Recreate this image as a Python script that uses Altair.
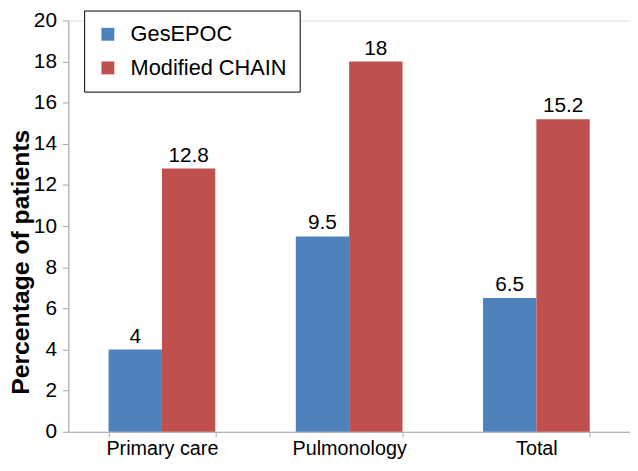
import altair as alt
import pandas as pd

categories = ["Primary care", "Pulmonology", "Total"]
series = ["GesEPOC", "Modified CHAIN"]
gesepoc = [4, 9.5, 6.5]
chain = [12.8, 18, 15.2]
value_labels_g = ["4", "9.5", "6.5"]
value_labels_c = ["12.8", "18", "15.2"]

rows = []
for i, c in enumerate(categories):
    rows.append({"cat": c, "series": series[0], "value": gesepoc[i], "label": value_labels_g[i]})
    rows.append({"cat": c, "series": series[1], "value": chain[i], "label": value_labels_c[i]})
df = pd.DataFrame(rows)

FONT = "Liberation Sans"
AXIS_GREY = "#a6a6a6"

x = alt.X("cat:N", sort=categories, title=None,
          scale=alt.Scale(paddingInner=0.43, paddingOuter=0.215),
          axis=alt.Axis(labelAngle=0, labelFontSize=20, labelFont=FONT, labelColor="black",
                        labelPadding=2, domainColor=AXIS_GREY, tickColor=AXIS_GREY,
                        tickSize=5, tickBand="extent", grid=False))
xo = alt.XOffset("series:N", sort=series, scale=alt.Scale(paddingInner=0, paddingOuter=0))
y = alt.Y("value:Q", title="Percentage of patients",
          scale=alt.Scale(domain=[0, 20], nice=False),
          axis=alt.Axis(values=list(range(0, 21, 2)), grid=False, labelFontSize=21, labelFont=FONT,
                        labelColor="black", domainColor=AXIS_GREY, tickColor=AXIS_GREY, tickSize=6,
                        labelPadding=6,
                        titleFontSize=25, titleFont=FONT, titleFontWeight="bold", titleColor="black",
                        titleX=-35, titleY=244, titleBaseline="bottom", titleAngle=270))

color = alt.Color("series:N", sort=series,
                  scale=alt.Scale(domain=series, range=["#4F81BD", "#C0504D"]),
                  legend=alt.Legend(title=None, orient="none", legendX=16, legendY=-10,
                                    strokeColor="black", fillColor="white", padding=13,
                                    symbolType="square", symbolSize=170, symbolStrokeWidth=0,
                                    labelFontSize=22, labelFont=FONT, labelColor="black",
                                    rowPadding=12, labelOffset=12))

bars = alt.Chart(df).mark_bar().encode(x=x, xOffset=xo, y=y, color=color)
text = alt.Chart(df).mark_text(dy=-13, fontSize=21, font=FONT, color="black").encode(
    x=x, xOffset=xo, y=y, text="label:N")

chart = alt.layer(bars, text).properties(
    width=568, height=416,
    autosize=alt.AutoSizeParams(type="none"),
    padding={"left": 61, "top": 10, "right": 0, "bottom": 29},
).configure_view(stroke=None).configure(background="white")

chart.save("out.html", embed_options={"renderer": "svg", "actions": False})
